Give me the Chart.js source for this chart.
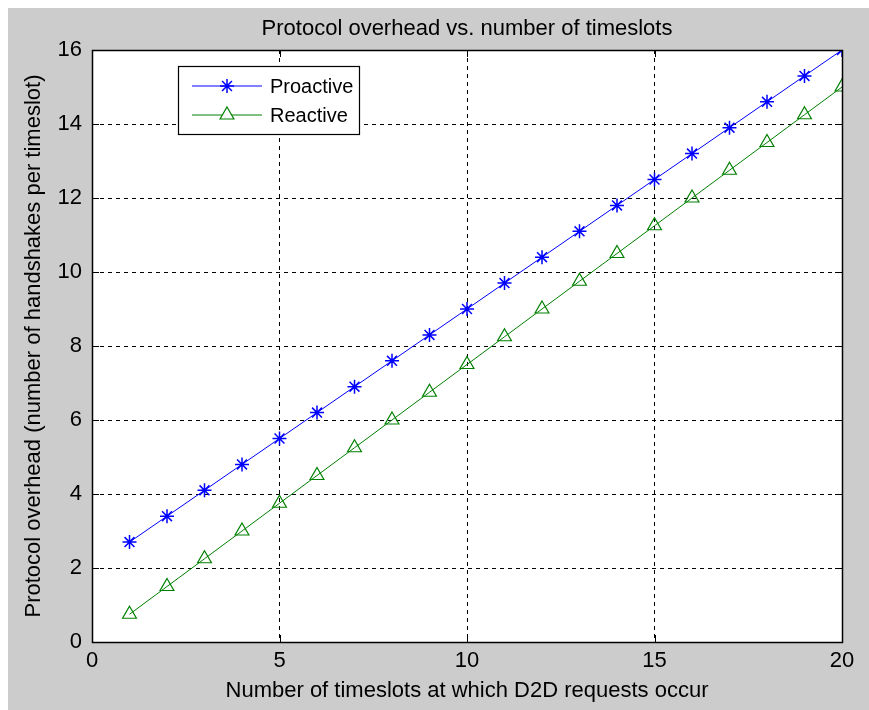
<!DOCTYPE html>
<html>
<head>
<meta charset="utf-8">
<script src="https://cdn.jsdelivr.net/npm/chart.js@4.4.1/dist/chart.umd.min.js"></script>
<style>
  html, body { margin: 0; padding: 0; background: #ffffff; }
  #wrap { width: 869px; height: 710px; position: relative; }
</style>
</head>
<body>
<div id="wrap"><canvas id="c" width="869" height="710"></canvas></div>
<script>
// Number of timeslots at which D2D requests occur
const timeslots = [1, 2, 3, 4, 5, 6, 7, 8, 9, 10, 11, 12, 13, 14, 15, 16, 17, 18, 19, 20];
// Handshakes per timeslot
const proactive = [2.7, 3.4, 4.1, 4.8, 5.5, 6.2, 6.9, 7.6, 8.3, 9.0, 9.7, 10.4, 11.1, 11.8, 12.5, 13.2, 13.9, 14.6, 15.3, 16.0];
const reactive  = [0.75, 1.5, 2.25, 3.0, 3.75, 4.5, 5.25, 6.0, 6.75, 7.5, 8.25, 9.0, 9.75, 10.5, 11.25, 12.0, 12.75, 13.5, 14.25, 15.0];
const xTicks = [0, 5, 10, 15, 20];
const yTicks = [0, 2, 4, 6, 8, 10, 12, 14, 16];
const seriesNames = ['Proactive', 'Reactive'];
const chartTitle = 'Protocol overhead vs. number of timeslots';

const FONT = 'Liberation Sans, Arial, sans-serif';
const FONT_SIZE = 22;
const LEGEND_FONT_SIZE = 20;
const FIG_BG = '#cccccc';

// Figure background, title, framed axes box, inward ticks and the legend box
const figurePlugin = {
  id: 'figure',
  beforeDraw(chart) {
    const ctx = chart.ctx;
    const a = chart.chartArea;
    ctx.save();
    ctx.fillStyle = '#ffffff';
    ctx.fillRect(0, 0, chart.width, chart.height);
    ctx.fillStyle = FIG_BG;
    ctx.fillRect(8, 8, chart.width - 8, chart.height - 8);
    ctx.fillStyle = '#ffffff';
    ctx.fillRect(a.left, a.top, a.right - a.left, a.bottom - a.top);
    // title centred over the axes
    ctx.fillStyle = '#000000';
    ctx.font = FONT_SIZE + 'px ' + FONT;
    ctx.textAlign = 'center';
    ctx.textBaseline = 'middle';
    ctx.fillText(chartTitle, (a.left + a.right) / 2, 29);
    ctx.restore();
  },
  afterDatasetsDraw(chart) {
    const ctx = chart.ctx;
    const a = chart.chartArea;
    const xs = chart.scales.x, ys = chart.scales.y;
    ctx.save();
    ctx.strokeStyle = '#000000';
    ctx.lineWidth = 1;
    ctx.setLineDash([]);
    // tick marks pointing into the axes on all four sides
    const tl = 7;
    ctx.beginPath();
    xTicks.forEach(v => {
      const px = Math.round(xs.getPixelForValue(v)) + 0.5;
      ctx.moveTo(px, a.bottom); ctx.lineTo(px, a.bottom - tl);
      ctx.moveTo(px, a.top); ctx.lineTo(px, a.top + tl);
    });
    yTicks.forEach(v => {
      const py = Math.round(ys.getPixelForValue(v)) + 0.5;
      ctx.moveTo(a.left, py); ctx.lineTo(a.left + tl, py);
      ctx.moveTo(a.right, py); ctx.lineTo(a.right - tl, py);
    });
    ctx.stroke();
    // axes frame
    ctx.lineWidth = 1.5;
    ctx.strokeRect(Math.round(a.left) + 0.5, Math.round(a.top) + 0.5,
                   Math.round(a.right - a.left), Math.round(a.bottom - a.top));

    // legend box
    const lx = 178, ly = 66, lw = 181, lh = 68;
    ctx.fillStyle = '#ffffff';
    ctx.fillRect(lx, ly, lw, lh);
    ctx.lineWidth = 1.2;
    ctx.strokeStyle = '#000000';
    ctx.strokeRect(lx + 0.5, ly + 0.5, lw, lh);
    chart.data.datasets.forEach((ds, i) => {
      const yy = ly + 20 + i * 29;
      ctx.strokeStyle = ds.borderColor;
      ctx.lineWidth = 1;
      ctx.beginPath();
      ctx.moveTo(lx + 14, yy); ctx.lineTo(lx + 84, yy);
      ctx.stroke();
      ctx.fillStyle = '#ffffff';
      ctx.strokeStyle = ds.pointBorderColor;
      ctx.lineWidth = ds.pointBorderWidth;
      Chart.helpers.drawPoint(ctx, {
        pointStyle: ds.pointStyle,
        radius: ds.pointRadius,
        borderWidth: ds.pointBorderWidth
      }, lx + 49, yy);
      ctx.fillStyle = '#000000';
      ctx.font = LEGEND_FONT_SIZE + 'px ' + FONT;
      ctx.textBaseline = 'middle';
      ctx.textAlign = 'left';
      ctx.fillText(ds.label, lx + 92, yy + 1);
    });
    ctx.restore();
  }
};

const toPoints = (ys) => ys.map((v, i) => ({ x: timeslots[i], y: v }));

new Chart(document.getElementById('c'), {
  type: 'line',
  data: {
    datasets: [
      {
        label: seriesNames[0],
        data: toPoints(proactive),
        borderColor: '#0000ff',
        backgroundColor: 'rgba(0,0,0,0)',
        borderWidth: 1,
        pointStyle: 'star',
        pointRadius: 7,
        pointBorderWidth: 1.5,
        pointBorderColor: '#0000ff',
        pointBackgroundColor: 'rgba(0,0,0,0)',
        tension: 0
      },
      {
        label: seriesNames[1],
        data: toPoints(reactive),
        borderColor: '#008000',
        backgroundColor: 'rgba(0,0,0,0)',
        borderWidth: 1,
        pointStyle: 'triangle',
        pointRadius: 8,
        pointBorderWidth: 1.2,
        pointBorderColor: '#008000',
        pointBackgroundColor: 'rgba(0,0,0,0)',
        tension: 0
      }
    ]
  },
  options: {
    responsive: false,
    animation: false,
    events: [],
    layout: { padding: { left: 0, right: 27, top: 50, bottom: 0 } },
    plugins: {
      legend: { display: false },
      tooltip: { enabled: false },
      title: { display: false }
    },
    scales: {
      x: {
        type: 'linear',
        min: 0, max: 20,
        afterFit(s) { s.height = 68; },
        afterBuildTicks(s) { s.ticks = xTicks.map(v => ({ value: v })); },
        ticks: { color: '#000000', font: { family: FONT, size: FONT_SIZE }, padding: 6, maxRotation: 0 },
        grid: { color: '#000000', lineWidth: 1, drawTicks: false, tickLength: 0 },
        border: { display: false, dash: [4, 4] },
        title: {
          display: true,
          text: 'Number of timeslots at which D2D requests occur',
          color: '#000000',
          font: { family: FONT, size: FONT_SIZE },
          padding: { top: 0, bottom: 6 }
        }
      },
      y: {
        type: 'linear',
        min: 0, max: 16,
        afterFit(s) { s.width = 92; },
        afterBuildTicks(s) { s.ticks = yTicks.map(v => ({ value: v })); },
        ticks: { color: '#000000', font: { family: FONT, size: FONT_SIZE }, padding: 10 },
        grid: { color: '#000000', lineWidth: 1, drawTicks: false, tickLength: 0 },
        border: { display: false, dash: [4, 4] },
        title: {
          display: true,
          text: 'Protocol overhead (number of handshakes per timeslot)',
          color: '#000000',
          font: { family: FONT, size: FONT_SIZE },
          padding: { top: 21, bottom: 0 }
        }
      }
    }
  },
  plugins: [figurePlugin]
});
</script>
</body>
</html>
